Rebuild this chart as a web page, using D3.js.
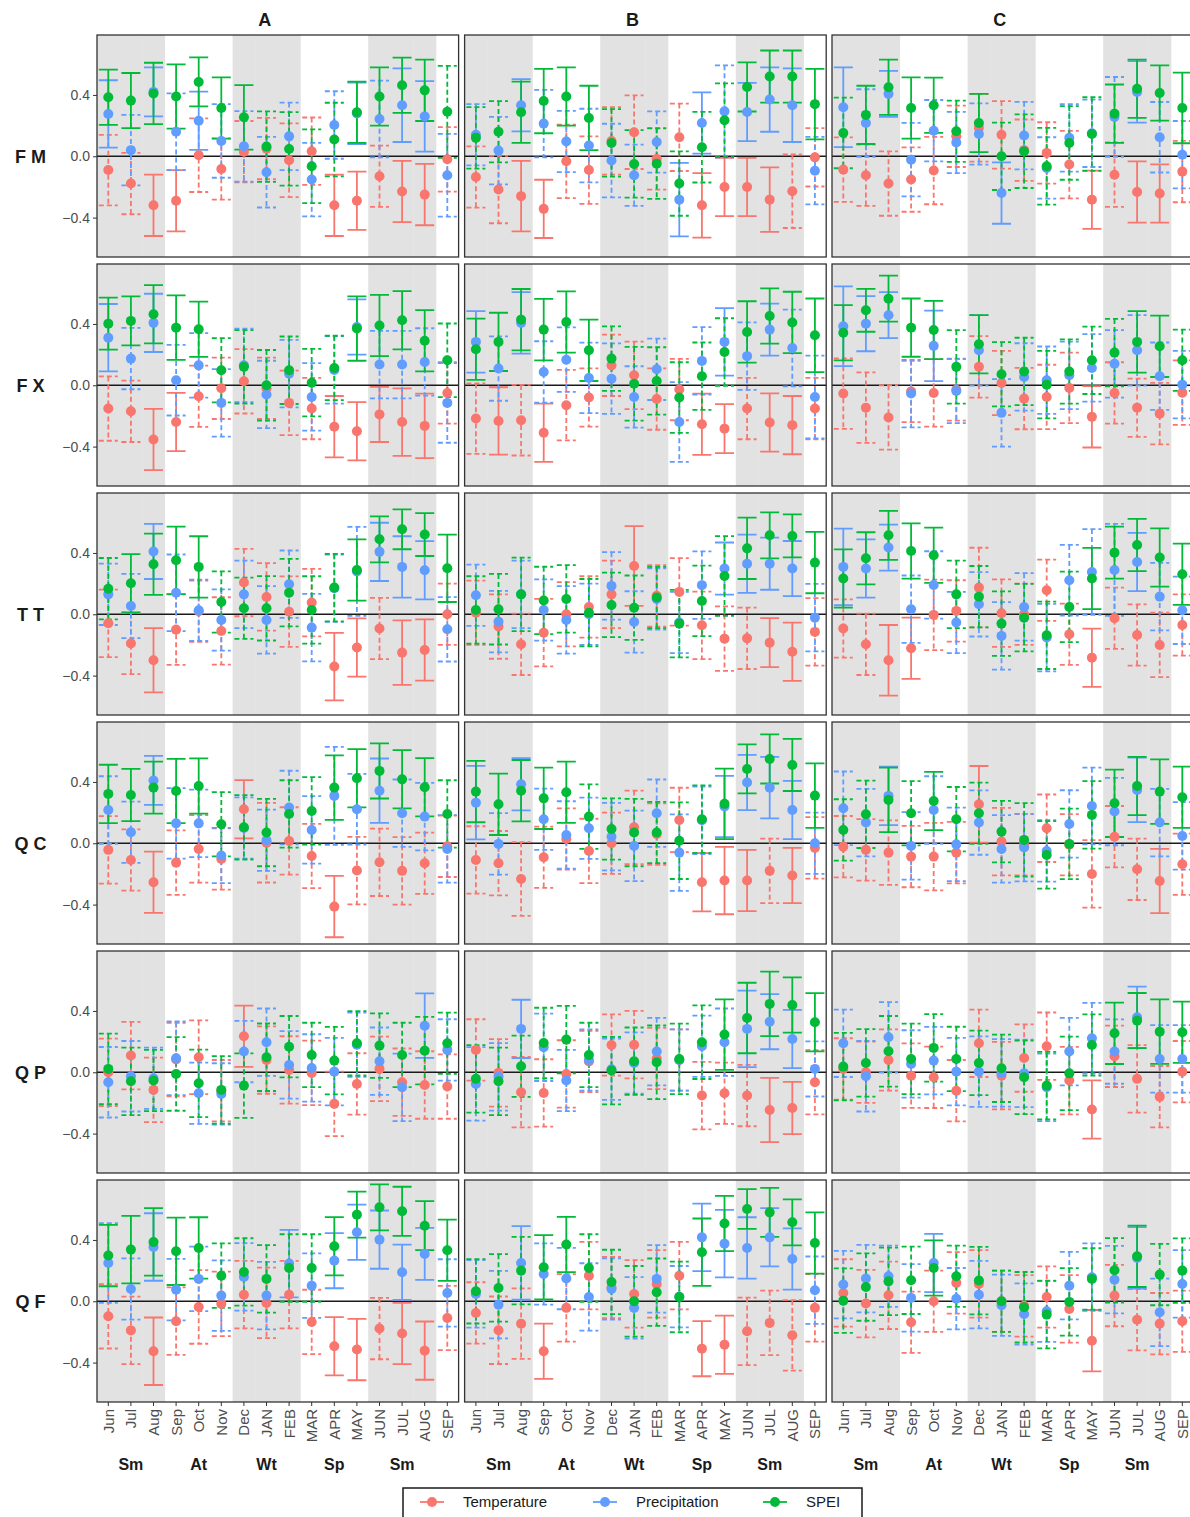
<!DOCTYPE html>
<html>
  <head>
    <meta charset="utf-8" />
    <title>monthly correlations</title>
    <script src="https://cdn.jsdelivr.net/npm/d3@7"></script>
    <style type="text/css">
      body { margin: 0; background: #fff; }
      text { font-family: "Liberation Sans", Arial, sans-serif; }
    </style>
  </head>

  <body>
    <svg id="chart" width="1190" height="1517"></svg>
    <script type="text/javascript">
      // months on the x axis, and the seasons written below them
      var months = ['Jun', 'Jul', 'Aug', 'Sep', 'Oct', 'Nov', 'Dec', 'JAN', 'FEB', 'MAR', 'APR', 'MAY', 'JUN', 'JUL', 'AUG', 'SEP'];
      var shadedMonths = ['Jun', 'Jul', 'Aug', 'Dec', 'JAN', 'FEB', 'JUN', 'JUL', 'AUG'];
      var seasons = ['Sm', 'At', 'Wt', 'Sp', 'Sm'];
      var seasonAt = ['Jul', 'Oct', 'JAN', 'APR', 'JUL'];
      var rowNames = ['FM', 'FX', 'TT', 'QC', 'QP', 'QF'];
      var colNames = ['A', 'B', 'C'];
      var seriesNames = ['Temperature', 'Precipitation', 'SPEI'];
      var yTicks = [-0.4, 0, 0.4];

      // estimate + half width of the interval, one pair of arrays per series and panel
      var fmA_temp = [-0.09, -0.178, -0.32, -0.29, 0.007, -0.083, 0.03, 0.05, -0.026, 0.033, -0.32, -0.29, -0.13, -0.23, -0.25, -0.02];
      var fmA_tempCI = [0.23, 0.2, 0.2, 0.2, 0.24, 0.2, 0.2, 0.2, 0.24, 0.22, 0.2, 0.19, 0.2, 0.2, 0.2, 0.21];
      var fmA_prec = [0.276, 0.04, 0.42, 0.16, 0.232, 0.1, 0.065, -0.104, 0.13, -0.152, 0.204, 0.28, 0.243, 0.333, 0.26, -0.124];
      var fmA_precCI = [0.22, 0.23, 0.16, 0.25, 0.19, 0.24, 0.23, 0.23, 0.22, 0.24, 0.22, 0.2, 0.25, 0.24, 0.23, 0.27];
      var fmA_spei = [0.385, 0.363, 0.41, 0.39, 0.485, 0.315, 0.254, 0.063, 0.048, -0.065, 0.109, 0.287, 0.39, 0.463, 0.43, 0.29];
      var fmA_speiCI = [0.18, 0.18, 0.2, 0.21, 0.16, 0.2, 0.21, 0.23, 0.24, 0.24, 0.24, 0.2, 0.19, 0.18, 0.2, 0.3];

      var fmB_temp = [-0.135, -0.217, -0.26, -0.343, -0.033, -0.09, 0.1, 0.157, -0.017, 0.124, -0.32, -0.2, -0.2, -0.283, -0.228, -0.007];
      var fmB_tempCI = [0.2, 0.22, 0.23, 0.19, 0.24, 0.22, 0.22, 0.24, 0.2, 0.22, 0.21, 0.19, 0.19, 0.21, 0.24, 0.19];
      var fmB_prec = [0.14, 0.037, 0.333, 0.213, 0.096, 0.07, -0.028, -0.124, 0.093, -0.283, 0.217, 0.293, 0.289, 0.37, 0.333, -0.094];
      var fmB_precCI = [0.2, 0.22, 0.17, 0.22, 0.2, 0.24, 0.24, 0.2, 0.2, 0.24, 0.2, 0.3, 0.19, 0.21, 0.24, 0.22];
      var fmB_spei = [0.12, 0.16, 0.287, 0.36, 0.39, 0.25, 0.087, -0.05, -0.048, -0.178, 0.059, 0.235, 0.452, 0.52, 0.52, 0.34];
      var fmB_speiCI = [0.2, 0.2, 0.2, 0.21, 0.19, 0.21, 0.22, 0.22, 0.23, 0.21, 0.23, 0.24, 0.16, 0.17, 0.17, 0.23];

      var fmC_temp = [-0.087, -0.124, -0.178, -0.152, -0.093, 0.13, 0.185, 0.14, 0.04, 0.022, -0.054, -0.283, -0.12, -0.233, -0.243, -0.1];
      var fmC_tempCI = [0.21, 0.2, 0.21, 0.21, 0.22, 0.2, 0.22, 0.22, 0.2, 0.2, 0.22, 0.19, 0.21, 0.2, 0.19, 0.2];
      var fmC_prec = [0.32, 0.217, 0.407, -0.022, 0.167, 0.09, 0.145, -0.24, 0.135, -0.076, 0.12, 0.15, 0.257, 0.42, 0.124, 0.01];
      var fmC_precCI = [0.26, 0.22, 0.15, 0.24, 0.2, 0.2, 0.2, 0.2, 0.22, 0.2, 0.22, 0.22, 0.26, 0.2, 0.23, 0.22];
      var fmC_spei = [0.152, 0.27, 0.45, 0.315, 0.333, 0.163, 0.217, 0, 0.033, -0.065, 0.087, 0.145, 0.278, 0.44, 0.413, 0.315];
      var fmC_speiCI = [0.23, 0.19, 0.18, 0.2, 0.18, 0.2, 0.19, 0.22, 0.24, 0.25, 0.24, 0.24, 0.19, 0.19, 0.18, 0.23];

      var fxA_temp = [-0.152, -0.17, -0.354, -0.24, -0.072, -0.02, 0.026, -0.02, -0.115, -0.152, -0.27, -0.3, -0.19, -0.24, -0.265, -0.05];
      var fxA_tempCI = [0.21, 0.2, 0.2, 0.19, 0.2, 0.2, 0.21, 0.2, 0.21, 0.2, 0.2, 0.19, 0.18, 0.22, 0.21, 0.2];
      var fxA_prec = [0.31, 0.174, 0.407, 0.033, 0.13, -0.115, 0.13, -0.06, 0.076, -0.076, 0.1, 0.38, 0.135, 0.135, 0.152, -0.115];
      var fxA_precCI = [0.22, 0.2, 0.19, 0.23, 0.21, 0.22, 0.24, 0.22, 0.22, 0.22, 0.22, 0.18, 0.22, 0.22, 0.22, 0.26];
      var fxA_spei = [0.402, 0.42, 0.463, 0.376, 0.365, 0.098, 0.12, 0, 0.098, 0.017, 0.113, 0.37, 0.39, 0.424, 0.29, 0.163];
      var fxA_speiCI = [0.17, 0.16, 0.19, 0.21, 0.18, 0.21, 0.24, 0.23, 0.22, 0.22, 0.21, 0.21, 0.2, 0.19, 0.2, 0.24];

      var fxB_temp = [-0.217, -0.233, -0.228, -0.31, -0.13, -0.08, 0.13, 0.065, -0.09, -0.028, -0.254, -0.283, -0.152, -0.243, -0.26, -0.152];
      var fxB_tempCI = [0.23, 0.22, 0.23, 0.19, 0.23, 0.19, 0.2, 0.22, 0.2, 0.2, 0.2, 0.16, 0.2, 0.19, 0.19, 0.2];
      var fxB_prec = [0.283, 0.109, 0.407, 0.087, 0.167, 0.048, 0.043, -0.076, 0.104, -0.24, 0.159, 0.283, 0.19, 0.363, 0.243, -0.076];
      var fxB_precCI = [0.2, 0.21, 0.2, 0.2, 0.21, 0.23, 0.23, 0.2, 0.2, 0.26, 0.22, 0.22, 0.22, 0.17, 0.25, 0.27];
      var fxB_spei = [0.235, 0.283, 0.428, 0.363, 0.413, 0.228, 0.174, 0.01, 0.028, -0.08, 0.059, 0.217, 0.348, 0.452, 0.41, 0.326];
      var fxB_speiCI = [0.2, 0.19, 0.2, 0.2, 0.2, 0.2, 0.21, 0.24, 0.22, 0.23, 0.22, 0.22, 0.2, 0.18, 0.2, 0.24];

      var fxC_temp = [-0.054, -0.146, -0.21, -0.04, -0.05, -0.03, 0.12, 0.015, -0.087, -0.076, -0.017, -0.206, -0.05, -0.146, -0.185, -0.048];
      var fxC_tempCI = [0.23, 0.23, 0.21, 0.2, 0.22, 0.2, 0.2, 0.21, 0.2, 0.21, 0.23, 0.2, 0.2, 0.19, 0.2, 0.21];
      var fxC_prec = [0.385, 0.402, 0.457, -0.054, 0.257, -0.037, 0.228, -0.18, 0.054, 0.033, 0.065, 0.113, 0.14, 0.228, 0.059, 0.004];
      var fxC_precCI = [0.26, 0.18, 0.15, 0.22, 0.23, 0.21, 0.23, 0.22, 0.22, 0.22, 0.22, 0.22, 0.22, 0.23, 0.22, 0.22];
      var fxC_spei = [0.343, 0.489, 0.565, 0.376, 0.36, 0.12, 0.267, 0.072, 0.09, 0.004, 0.09, 0.163, 0.213, 0.283, 0.254, 0.163];
      var fxC_speiCI = [0.18, 0.14, 0.15, 0.19, 0.19, 0.24, 0.19, 0.21, 0.22, 0.22, 0.21, 0.22, 0.22, 0.2, 0.2, 0.2];

      var ttA_temp = [-0.059, -0.19, -0.3, -0.1, 0.02, -0.109, 0.207, 0.113, 0.017, 0.076, -0.341, -0.217, -0.093, -0.25, -0.233, 0];
      var ttA_tempCI = [0.22, 0.2, 0.21, 0.23, 0.2, 0.22, 0.22, 0.22, 0.23, 0.22, 0.22, 0.19, 0.2, 0.21, 0.2, 0.2];
      var ttA_prec = [0.13, 0.054, 0.41, 0.14, 0.026, -0.037, 0.13, -0.037, 0.196, -0.087, 0.17, 0.28, 0.407, 0.309, 0.287, -0.098];
      var ttA_precCI = [0.2, 0.21, 0.18, 0.25, 0.2, 0.2, 0.22, 0.22, 0.22, 0.22, 0.22, 0.29, 0.19, 0.2, 0.19, 0.21];
      var ttA_spei = [0.167, 0.202, 0.326, 0.352, 0.309, 0.08, 0.039, 0.039, 0.141, 0.028, 0.174, 0.289, 0.489, 0.554, 0.52, 0.3];
      var ttA_speiCI = [0.2, 0.19, 0.2, 0.22, 0.2, 0.2, 0.2, 0.21, 0.22, 0.22, 0.22, 0.2, 0.15, 0.13, 0.14, 0.22];

      var ttB_temp = [0.01, -0.08, -0.196, -0.12, 0, 0.048, 0.13, 0.315, 0.12, 0.146, -0.072, -0.159, -0.157, -0.185, -0.245, -0.115];
      var ttB_tempCI = [0.21, 0.21, 0.2, 0.22, 0.21, 0.2, 0.22, 0.26, 0.2, 0.22, 0.22, 0.21, 0.2, 0.16, 0.19, 0.22];
      var ttB_prec = [0.124, -0.048, 0.13, 0.028, -0.037, 0, 0.185, -0.05, 0.1, -0.054, 0.19, 0.298, 0.33, 0.33, 0.298, -0.022];
      var ttB_precCI = [0.2, 0.2, 0.22, 0.2, 0.22, 0.2, 0.22, 0.2, 0.2, 0.2, 0.22, 0.17, 0.19, 0.17, 0.18, 0.22];
      var ttB_spei = [0.028, 0.033, 0.13, 0.09, 0.1, 0.01, 0.061, 0.043, 0.109, -0.061, 0.087, 0.25, 0.43, 0.515, 0.511, 0.337];
      var ttB_speiCI = [0.22, 0.23, 0.24, 0.22, 0.22, 0.22, 0.21, 0.21, 0.2, 0.22, 0.23, 0.26, 0.2, 0.15, 0.14, 0.2];

      var ttC_temp = [-0.093, -0.196, -0.3, -0.222, -0.004, 0.022, 0.174, 0.007, 0, 0.157, -0.13, -0.283, -0.026, -0.135, -0.2, -0.07];
      var ttC_tempCI = [0.19, 0.2, 0.23, 0.2, 0.23, 0.2, 0.26, 0.22, 0.2, 0.2, 0.2, 0.19, 0.2, 0.2, 0.21, 0.2];
      var ttC_prec = [0.309, 0.298, 0.435, 0.033, 0.191, -0.054, 0.065, -0.141, 0.048, -0.152, 0.222, 0.276, 0.289, 0.341, 0.115, 0.026];
      var ttC_precCI = [0.25, 0.19, 0.15, 0.22, 0.22, 0.2, 0.21, 0.22, 0.22, 0.22, 0.23, 0.28, 0.3, 0.19, 0.22, 0.22];
      var ttC_spei = [0.233, 0.365, 0.515, 0.413, 0.385, 0.13, 0.115, -0.061, -0.022, -0.137, 0.048, 0.233, 0.402, 0.452, 0.37, 0.261];
      var ttC_speiCI = [0.19, 0.17, 0.16, 0.18, 0.18, 0.22, 0.2, 0.21, 0.22, 0.22, 0.23, 0.2, 0.17, 0.17, 0.19, 0.2];

      var qcA_temp = [-0.043, -0.109, -0.254, -0.126, -0.037, -0.102, 0.222, 0.004, 0.015, -0.083, -0.413, -0.178, -0.124, -0.18, -0.13, -0.02];
      var qcA_tempCI = [0.22, 0.2, 0.2, 0.21, 0.22, 0.2, 0.19, 0.26, 0.22, 0.21, 0.2, 0.22, 0.22, 0.22, 0.2, 0.2];
      var qcA_prec = [0.217, 0.072, 0.41, 0.13, 0.13, -0.08, 0.1, 0.02, 0.233, 0.087, 0.309, 0.222, 0.343, 0.196, 0.174, -0.037];
      var qcA_precCI = [0.22, 0.2, 0.16, 0.23, 0.22, 0.18, 0.2, 0.2, 0.24, 0.22, 0.32, 0.23, 0.21, 0.22, 0.22, 0.22];
      var qcA_spei = [0.322, 0.315, 0.363, 0.341, 0.374, 0.124, 0.104, 0.07, 0.191, 0.211, 0.363, 0.424, 0.472, 0.417, 0.365, 0.191];
      var qcA_speiCI = [0.19, 0.17, 0.17, 0.21, 0.18, 0.21, 0.21, 0.22, 0.22, 0.22, 0.21, 0.19, 0.18, 0.19, 0.19, 0.22];

      var qcB_temp = [-0.109, -0.13, -0.233, -0.091, 0.028, -0.05, 0, 0.104, 0.06, 0.152, -0.254, -0.243, -0.243, -0.18, -0.21, -0.03];
      var qcB_tempCI = [0.22, 0.21, 0.24, 0.2, 0.2, 0.21, 0.2, 0.24, 0.2, 0.21, 0.19, 0.22, 0.2, 0.21, 0.18, 0.2];
      var qcB_prec = [0.265, -0.004, 0.385, 0.157, 0.054, 0.098, 0.043, -0.017, 0.196, -0.061, 0.15, 0.24, 0.396, 0.363, 0.217, 0];
      var qcB_precCI = [0.24, 0.2, 0.17, 0.2, 0.22, 0.2, 0.22, 0.23, 0.22, 0.25, 0.22, 0.2, 0.18, 0.2, 0.19, 0.2];
      var qcB_spei = [0.337, 0.254, 0.343, 0.293, 0.333, 0.174, 0.093, 0.07, 0.07, 0.017, 0.157, 0.257, 0.485, 0.55, 0.511, 0.311];
      var qcB_speiCI = [0.2, 0.2, 0.2, 0.2, 0.2, 0.21, 0.2, 0.22, 0.2, 0.25, 0.22, 0.23, 0.16, 0.16, 0.17, 0.21];

      var qcC_temp = [-0.022, -0.043, -0.061, -0.087, -0.087, -0.061, 0.254, 0.011, -0.01, 0.098, -0.01, -0.2, 0.043, -0.17, -0.246, -0.137];
      var qcC_tempCI = [0.2, 0.2, 0.21, 0.2, 0.22, 0.2, 0.25, 0.22, 0.2, 0.22, 0.2, 0.22, 0.2, 0.2, 0.21, 0.2];
      var qcC_prec = [0.228, 0.135, 0.309, -0.017, 0.217, -0.007, 0.135, -0.037, -0.028, -0.05, 0.126, 0.243, 0.207, 0.348, 0.135, 0.048];
      var qcC_precCI = [0.24, 0.22, 0.19, 0.22, 0.22, 0.24, 0.21, 0.22, 0.22, 0.2, 0.22, 0.25, 0.22, 0.21, 0.22, 0.22];
      var qcC_spei = [0.087, 0.189, 0.283, 0.196, 0.276, 0.157, 0.196, 0.076, 0.022, -0.076, -0.004, 0.185, 0.261, 0.374, 0.337, 0.3];
      var qcC_speiCI = [0.2, 0.22, 0.21, 0.21, 0.19, 0.21, 0.2, 0.2, 0.24, 0.22, 0.23, 0.22, 0.22, 0.19, 0.21, 0.2];

      var qpA_temp = [0, 0.109, -0.115, 0.083, 0.098, -0.12, 0.235, 0.08, 0.015, -0.004, -0.206, -0.076, 0.022, -0.065, -0.083, -0.093];
      var qpA_tempCI = [0.22, 0.22, 0.21, 0.24, 0.24, 0.2, 0.2, 0.22, 0.22, 0.21, 0.21, 0.2, 0.21, 0.22, 0.22, 0.21];
      var qpA_prec = [-0.065, -0.026, -0.039, 0.091, -0.137, -0.141, 0.135, 0.196, 0.048, 0.028, 0.004, 0.18, 0.072, -0.098, 0.304, 0.146];
      var qpA_precCI = [0.23, 0.23, 0.2, 0.24, 0.2, 0.2, 0.2, 0.22, 0.22, 0.22, 0.22, 0.21, 0.22, 0.22, 0.21, 0.2];
      var qpA_spei = [0.022, -0.059, -0.054, -0.011, -0.072, -0.115, -0.087, 0.098, 0.167, 0.113, 0.076, 0.189, 0.174, 0.113, 0.141, 0.189];
      var qpA_speiCI = [0.23, 0.22, 0.2, 0.24, 0.22, 0.22, 0.21, 0.22, 0.2, 0.21, 0.22, 0.21, 0.21, 0.21, 0.22, 0.2];

      var qpB_temp = [0.146, -0.004, -0.13, -0.135, -0.011, 0.07, 0.178, 0.18, 0.09, 0.08, -0.152, -0.137, -0.152, -0.246, -0.233, -0.065];
      var qpB_tempCI = [0.2, 0.22, 0.23, 0.22, 0.22, 0.2, 0.2, 0.22, 0.2, 0.2, 0.22, 0.2, 0.2, 0.21, 0.17, 0.21];
      var qpB_prec = [-0.076, -0.03, 0.283, 0.163, -0.054, 0.08, 0.02, 0.06, 0.135, 0.08, 0.17, 0.196, 0.283, 0.33, 0.217, 0.022];
      var qpB_precCI = [0.24, 0.22, 0.19, 0.22, 0.2, 0.2, 0.2, 0.2, 0.22, 0.2, 0.2, 0.22, 0.25, 0.18, 0.19, 0.18];
      var qpB_spei = [-0.043, -0.059, 0.039, 0.191, 0.213, 0.113, 0.011, 0.072, 0.065, 0.087, 0.196, 0.246, 0.354, 0.446, 0.439, 0.326];
      var qpB_speiCI = [0.22, 0.22, 0.2, 0.23, 0.22, 0.21, 0.22, 0.22, 0.24, 0.23, 0.24, 0.23, 0.23, 0.21, 0.18, 0.19];

      var qpC_temp = [0.022, 0, 0.08, -0.022, -0.033, -0.12, 0.189, -0.022, 0.093, 0.17, -0.054, -0.243, 0.104, -0.043, -0.159, 0.004];
      var qpC_tempCI = [0.2, 0.2, 0.2, 0.21, 0.2, 0.2, 0.22, 0.22, 0.22, 0.22, 0.22, 0.19, 0.2, 0.22, 0.2, 0.2];
      var qpC_prec = [0.189, -0.026, 0.228, 0.054, 0.076, 0.004, 0.004, -0.004, -0.007, -0.098, 0.135, 0.222, 0.135, 0.359, 0.087, 0.087];
      var qpC_precCI = [0.22, 0.23, 0.23, 0.22, 0.22, 0.22, 0.23, 0.22, 0.22, 0.22, 0.22, 0.23, 0.21, 0.2, 0.22, 0.22];
      var qpC_spei = [0.037, 0.061, 0.137, 0.087, 0.159, 0.087, 0.061, 0.026, -0.033, -0.087, -0.007, 0.178, 0.254, 0.337, 0.265, 0.261];
      var qpC_speiCI = [0.22, 0.22, 0.23, 0.23, 0.22, 0.21, 0.21, 0.22, 0.24, 0.22, 0.24, 0.2, 0.2, 0.18, 0.21, 0.2];

      var qfA_temp = [-0.098, -0.19, -0.326, -0.13, -0.037, -0.017, 0.043, -0.011, 0.043, -0.135, -0.293, -0.315, -0.178, -0.21, -0.322, -0.109];
      var qfA_tempCI = [0.21, 0.22, 0.22, 0.22, 0.24, 0.21, 0.22, 0.23, 0.22, 0.21, 0.19, 0.2, 0.2, 0.2, 0.19, 0.21];
      var qfA_prec = [0.25, 0.08, 0.354, 0.076, 0.146, 0.037, 0.159, 0.037, 0.246, 0.102, 0.265, 0.45, 0.402, 0.189, 0.309, 0.054];
      var qfA_precCI = [0.26, 0.2, 0.22, 0.2, 0.21, 0.23, 0.22, 0.22, 0.22, 0.21, 0.18, 0.18, 0.19, 0.18, 0.17, 0.22];
      var qfA_spei = [0.298, 0.337, 0.387, 0.326, 0.348, 0.167, 0.191, 0.146, 0.217, 0.217, 0.359, 0.565, 0.613, 0.587, 0.493, 0.333];
      var qfA_speiCI = [0.2, 0.22, 0.22, 0.22, 0.2, 0.21, 0.22, 0.22, 0.22, 0.22, 0.19, 0.15, 0.15, 0.16, 0.16, 0.2];

      var qfB_temp = [-0.076, -0.189, -0.146, -0.326, -0.043, 0.167, 0.09, 0.048, 0.113, 0.167, -0.309, -0.283, -0.196, -0.141, -0.222, -0.043];
      var qfB_tempCI = [0.2, 0.22, 0.23, 0.18, 0.22, 0.22, 0.2, 0.22, 0.22, 0.22, 0.18, 0.19, 0.22, 0.21, 0.23, 0.22];
      var qfB_prec = [0.048, -0.022, 0.25, 0.178, 0.148, 0.028, 0.08, -0.043, 0.146, 0.03, 0.417, 0.376, 0.348, 0.417, 0.276, 0.072];
      var qfB_precCI = [0.22, 0.22, 0.24, 0.2, 0.2, 0.22, 0.2, 0.2, 0.22, 0.2, 0.22, 0.22, 0.2, 0.19, 0.2, 0.22];
      var qfB_spei = [0.065, 0.087, 0.2, 0.222, 0.37, 0.217, 0.126, 0, 0.059, 0.028, 0.32, 0.507, 0.602, 0.58, 0.515, 0.38];
      var qfB_speiCI = [0.21, 0.22, 0.22, 0.21, 0.18, 0.22, 0.21, 0.23, 0.22, 0.23, 0.22, 0.18, 0.13, 0.16, 0.15, 0.2];

      var qfC_temp = [0.054, -0.015, 0.039, -0.137, 0, 0.12, 0.113, 0, -0.03, 0.028, -0.05, -0.257, 0.037, -0.12, -0.146, -0.13];
      var qfC_tempCI = [0.22, 0.22, 0.22, 0.2, 0.2, 0.2, 0.22, 0.2, 0.2, 0.2, 0.22, 0.2, 0.2, 0.2, 0.2, 0.2];
      var qfC_prec = [0.109, 0.148, 0.163, 0.022, 0.25, 0.017, 0.043, -0.026, -0.083, -0.065, 0.102, 0.157, 0.141, 0.283, -0.072, 0.113];
      var qfC_precCI = [0.22, 0.22, 0.2, 0.22, 0.19, 0.2, 0.22, 0.2, 0.2, 0.2, 0.22, 0.22, 0.22, 0.2, 0.22, 0.22];
      var qfC_spei = [0.004, 0.093, 0.13, 0.137, 0.217, 0.163, 0.135, 0, -0.039, -0.087, -0.004, 0.146, 0.202, 0.293, 0.174, 0.2];
      var qfC_speiCI = [0.21, 0.22, 0.22, 0.22, 0.18, 0.2, 0.22, 0.2, 0.23, 0.22, 0.22, 0.2, 0.21, 0.2, 0.2, 0.21];

      // panel table: [row][col] -> [temp, tempCI, prec, precCI, spei, speiCI]
      var panelRows = [
        [[fmA_temp, fmA_tempCI, fmA_prec, fmA_precCI, fmA_spei, fmA_speiCI], [fmB_temp, fmB_tempCI, fmB_prec, fmB_precCI, fmB_spei, fmB_speiCI], [fmC_temp, fmC_tempCI, fmC_prec, fmC_precCI, fmC_spei, fmC_speiCI]],
        [[fxA_temp, fxA_tempCI, fxA_prec, fxA_precCI, fxA_spei, fxA_speiCI], [fxB_temp, fxB_tempCI, fxB_prec, fxB_precCI, fxB_spei, fxB_speiCI], [fxC_temp, fxC_tempCI, fxC_prec, fxC_precCI, fxC_spei, fxC_speiCI]],
        [[ttA_temp, ttA_tempCI, ttA_prec, ttA_precCI, ttA_spei, ttA_speiCI], [ttB_temp, ttB_tempCI, ttB_prec, ttB_precCI, ttB_spei, ttB_speiCI], [ttC_temp, ttC_tempCI, ttC_prec, ttC_precCI, ttC_spei, ttC_speiCI]],
        [[qcA_temp, qcA_tempCI, qcA_prec, qcA_precCI, qcA_spei, qcA_speiCI], [qcB_temp, qcB_tempCI, qcB_prec, qcB_precCI, qcB_spei, qcB_speiCI], [qcC_temp, qcC_tempCI, qcC_prec, qcC_precCI, qcC_spei, qcC_speiCI]],
        [[qpA_temp, qpA_tempCI, qpA_prec, qpA_precCI, qpA_spei, qpA_speiCI], [qpB_temp, qpB_tempCI, qpB_prec, qpB_precCI, qpB_spei, qpB_speiCI], [qpC_temp, qpC_tempCI, qpC_prec, qpC_precCI, qpC_spei, qpC_speiCI]],
        [[qfA_temp, qfA_tempCI, qfA_prec, qfA_precCI, qfA_spei, qfA_speiCI], [qfB_temp, qfB_tempCI, qfB_prec, qfB_precCI, qfB_spei, qfB_speiCI], [qfC_temp, qfC_tempCI, qfC_prec, qfC_precCI, qfC_spei, qfC_speiCI]]
      ];

      var colors = ['#F8766D', '#619CFF', '#00BA38'];

      // layout
      var colLeft = [97, 464.6, 832];
      var panelW = 361.6;
      var rowTop = [35, 264, 493, 722, 951, 1180];
      var panelH = 222;
      var cap = 9.5;
      var dotR = 5;
      var barW = 1.8;

      var svg = d3.select('#chart');
      svg.append('rect').attr('width', 1190).attr('height', 1517).attr('fill', '#fff');

      var scY = d3.scaleLinear().domain([-0.657, 0.791]).range([panelH, 0]);

      rowNames.forEach(function (rn, r) {
        colNames.forEach(function (cn, c) {
          var scX = d3.scaleBand().domain(months).range([0, panelW]).padding(0);
          var g = svg.append('g')
            .attr('transform', 'translate(' + colLeft[c] + ',' + rowTop[r] + ')');

          // shaded season bands
          g.selectAll('rect.band')
            .data(shadedMonths)
            .enter()
            .append('rect')
            .attr('x', (d) => scX(d))
            .attr('y', 0)
            .attr('width', scX.bandwidth() + 0.3)
            .attr('height', panelH)
            .attr('fill', '#e2e2e2');

          // zero line
          g.append('line')
            .attr('x1', 0).attr('x2', panelW)
            .attr('y1', scY(0)).attr('y2', scY(0))
            .attr('stroke', '#1a1a1a').attr('stroke-width', 1.3);

          var p = panelRows[r][c];
          var series = [0, 1, 2].map(function (s) {
            return months.map(function (m, i) {
              var est = p[s * 2][i];
              var hw = p[s * 2 + 1][i];
              var lo = est - hw, hi = est + hw;
              return { m: m, s: s, est: est, lo: lo, hi: hi, sig: lo > 0 || hi < 0 };
            });
          });

          // error bars first, then points
          series.forEach(function (rows, s) {
            g.append('g')
              .selectAll('path')
              .data(rows)
              .enter()
              .append('path')
              .attr('fill', 'none')
              .attr('stroke', colors[s])
              .attr('stroke-width', barW)
              .attr('stroke-dasharray', (d) => (d.sig ? null : '5,3'))
              .attr('d', function (d) {
                var x = scX(d.m) + scX.bandwidth() / 2;
                var y1 = scY(d.lo), y2 = scY(d.hi);
                return 'M' + (x - cap) + ',' + y2 + 'H' + (x + cap) +
                  'M' + x + ',' + y2 + 'V' + y1 +
                  'M' + (x - cap) + ',' + y1 + 'H' + (x + cap);
              });
          });
          series.forEach(function (rows, s) {
            g.append('g')
              .selectAll('circle')
              .data(rows)
              .enter()
              .append('circle')
              .attr('r', dotR)
              .attr('fill', colors[s])
              .attr('cx', (d) => scX(d.m) + scX.bandwidth() / 2)
              .attr('cy', (d) => scY(d.est));
          });

          // panel border
          g.append('rect')
            .attr('width', panelW).attr('height', panelH)
            .attr('fill', 'none').attr('stroke', '#333').attr('stroke-width', 1.3);

          // y axis on the first column
          if (c === 0) {
            var ay = g.append('g')
              .call(d3.axisLeft(scY).tickValues(yTicks).tickSize(4).tickFormat(d3.format('.1f')));
            ay.select('.domain').remove();
            ay.selectAll('line').attr('stroke', '#333');
            ay.selectAll('text')
              .attr('fill', '#4d4d4d')
              .style('font-size', '14px')
              .attr('x', -7);
            svg.append('text')
              .attr('x', 33)
              .attr('y', rowTop[r] + scY(0))
              .attr('dy', '0.36em')
              .attr('text-anchor', 'middle')
              .style('font-size', '18px')
              .style('font-weight', 'bold')
              .style('letter-spacing', '5px')
              .attr('fill', '#1a1a1a')
              .text(rn);
          }

          // column titles
          if (r === 0) {
            svg.append('text')
              .attr('x', colLeft[c] + panelW / 2 - 13)
              .attr('y', 26)
              .attr('text-anchor', 'middle')
              .style('font-size', '18px')
              .style('font-weight', 'bold')
              .attr('fill', '#1a1a1a')
              .text(cn);
          }

          // month axis and season labels under the last row
          if (r === rowNames.length - 1) {
            var ax = g.append('g')
              .attr('transform', 'translate(0,' + panelH + ')')
              .call(d3.axisBottom(scX).tickSize(4));
            ax.select('.domain').remove();
            ax.selectAll('line').attr('stroke', '#333');
            ax.selectAll('text')
              .attr('transform', 'rotate(-90)')
              .attr('x', -7)
              .attr('y', 0)
              .attr('dy', '0.36em')
              .style('text-anchor', 'end')
              .style('font-size', '15px')
              .attr('fill', '#4d4d4d');

            g.selectAll('text.season')
              .data(seasons)
              .enter()
              .append('text')
              .attr('class', 'season')
              .attr('x', (d, i) => scX(seasonAt[i]) + scX.bandwidth() / 2)
              .attr('y', 290)
              .attr('text-anchor', 'middle')
              .style('font-size', '16px')
              .style('font-weight', 'bold')
              .attr('fill', '#1a1a1a')
              .text((d) => d);
          }
        });
      });

      // legend
      var lg = svg.append('g');
      lg.append('rect')
        .attr('x', 403).attr('y', 1488).attr('width', 459).attr('height', 34)
        .attr('fill', '#fff').attr('stroke', '#1a1a1a').attr('stroke-width', 1.5);
      var keyX = [432, 605, 775];
      seriesNames.forEach(function (name, i) {
        lg.append('line')
          .attr('x1', keyX[i] - 12).attr('x2', keyX[i] + 12)
          .attr('y1', 1502).attr('y2', 1502)
          .attr('stroke', colors[i]).attr('stroke-width', barW);
        lg.append('circle')
          .attr('cx', keyX[i]).attr('cy', 1502).attr('r', dotR)
          .attr('fill', colors[i]);
        lg.append('text')
          .attr('x', keyX[i] + 31).attr('y', 1502).attr('dy', '0.36em')
          .style('font-size', '15px')
          .attr('fill', '#1a1a1a')
          .text(name);
      });
    </script>
  </body>
</html>
